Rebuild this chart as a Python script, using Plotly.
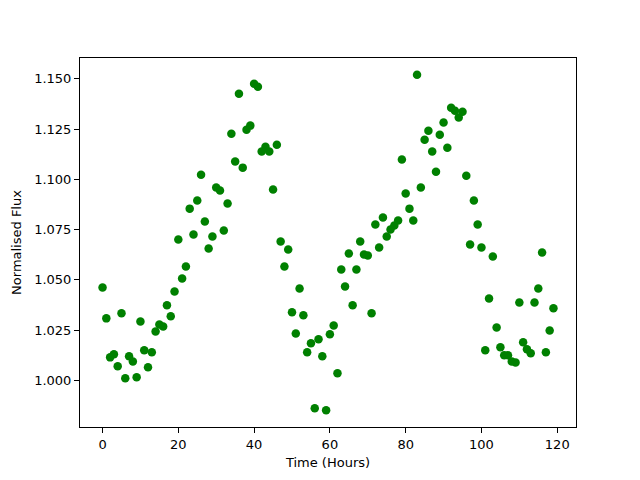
import plotly.graph_objects as go
import numpy as np

hours = list(range(120))
flux = [1.0462, 1.0308, 1.0114, 1.0129, 1.0070, 1.0333, 1.0010, 1.0119, 1.0094, 1.0015,
        1.0293, 1.0149, 1.0065, 1.0139, 1.0243, 1.0278, 1.0268, 1.0373, 1.0318, 1.0442,
        1.0700, 1.0506, 1.0566, 1.0854, 1.0725, 1.0894, 1.1023, 1.0790, 1.0656, 1.0715,
        1.0959, 1.0944, 1.0745, 1.0879, 1.1227, 1.1088, 1.1426, 1.1058, 1.1247, 1.1267,
        1.1475, 1.1460, 1.1138, 1.1162, 1.1138, 1.0949, 1.1172, 1.0690, 1.0566, 1.0651,
        1.0338, 1.0233, 1.0457, 1.0323, 1.0139, 1.0184, 0.9861, 1.0204, 1.0119, 0.9851,
        1.0229, 1.0273, 1.0035, 1.0551, 1.0467, 1.0631, 1.0373, 1.0551, 1.0690, 1.0626,
        1.0621, 1.0333, 1.0775, 1.0661, 1.0810, 1.0715, 1.0750, 1.0770, 1.0795, 1.1098,
        1.0929, 1.0854, 1.0795, 1.1520, 1.0959, 1.1197, 1.1242, 1.1138, 1.1038, 1.1222,
        1.1282, 1.1157, 1.1356, 1.1341, 1.1307, 1.1336, 1.1018, 1.0676, 1.0894, 1.0775,
        1.0661, 1.0149, 1.0407, 1.0616, 1.0263, 1.0164, 1.0124, 1.0124, 1.0094, 1.0089,
        1.0387, 1.0189, 1.0154, 1.0134, 1.0387, 1.0457, 1.0636, 1.0139, 1.0248, 1.0358]

x_ticks = [0, 20, 40, 60, 80, 100, 120]
y_ticks = [1.000, 1.025, 1.050, 1.075, 1.100, 1.125, 1.150]

def pad(v, m=0.05):
    lo, hi = min(v), max(v)
    d = (hi - lo) * m
    return [lo - d, hi + d]

fig = go.Figure(go.Scatter(x=hours, y=flux, mode="markers",
                           marker=dict(color="#008000", size=8.5, line=dict(width=0))))

axis_common = dict(showgrid=False, zeroline=False, showline=True, linecolor="black",
                   linewidth=1, mirror=True, ticks="outside", ticklen=5, tickwidth=1,
                   tickcolor="black", tickfont=dict(family="DejaVu Sans", size=13, color="black"))

fig.update_xaxes(range=pad(hours), tickvals=x_ticks, ticktext=[str(t) for t in x_ticks],
                 title=dict(text="Time (Hours)", font=dict(family="DejaVu Sans", size=13, color="black"),
                            standoff=7), **axis_common)
fig.update_yaxes(range=pad(flux), tickvals=y_ticks, ticktext=[f"{t:.3f}" for t in y_ticks],
                 title=dict(text="Normalised Flux", font=dict(family="DejaVu Sans", size=13, color="black"),
                            standoff=9), **axis_common)

fig.update_layout(width=640, height=480, margin=dict(l=72, r=72, t=50, b=61, pad=0, autoexpand=False),
                  plot_bgcolor="white", paper_bgcolor="white", showlegend=False)

fig.write_html("out.html")
